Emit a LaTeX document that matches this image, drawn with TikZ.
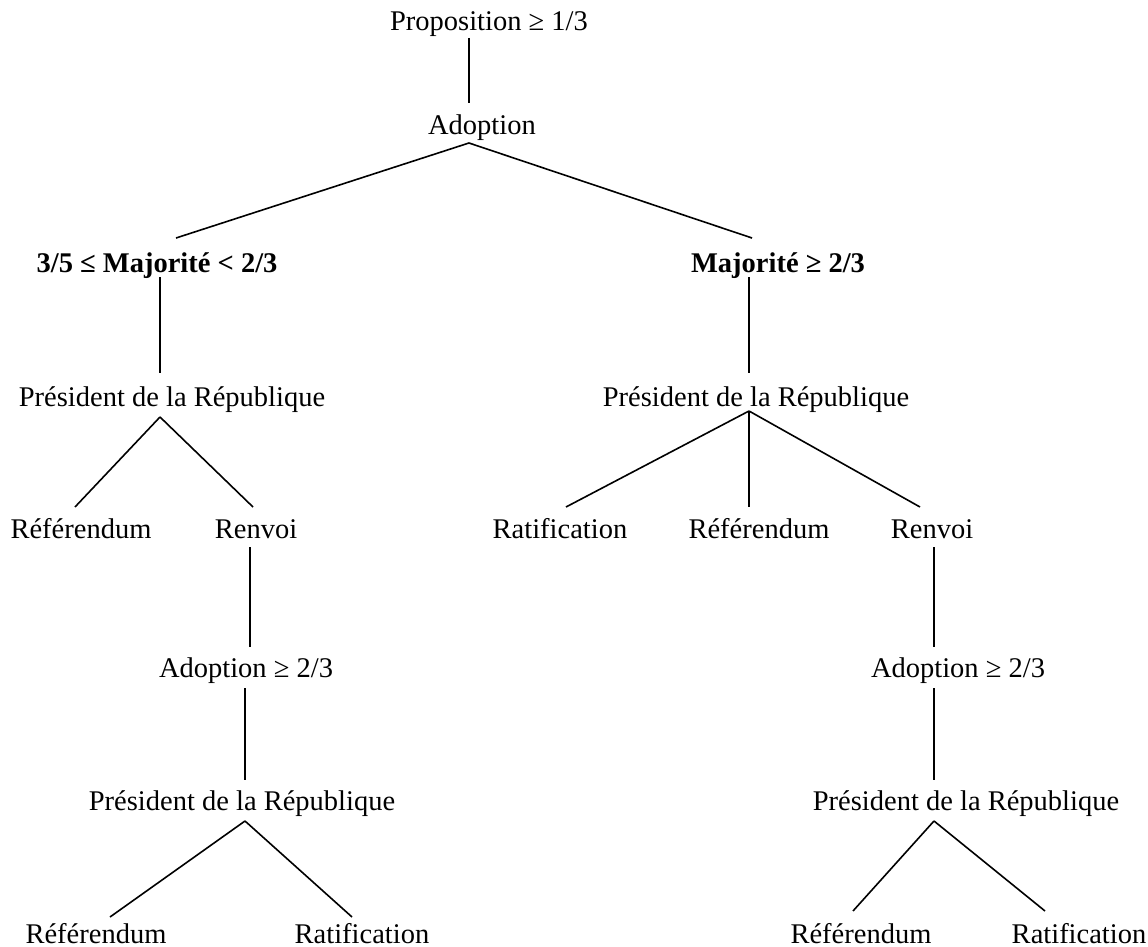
\documentclass[tikz,border=0pt]{standalone}
\usepackage{fontspec}
\setmainfont{Liberation Serif}
\usepackage{tikz}
\usetikzlibrary{positioning}

\tikzset{
  txt/.style={inner sep=0pt,anchor=base,font=\fontsize{28.5}{34}\selectfont},
  txtb/.style={txt,font=\fontsize{28.5}{34}\selectfont\bfseries},
  branch/.style={line width=1.6pt}
}

\begin{document}
\begin{tikzpicture}[x=1pt,y=-1pt]
\useasboundingbox (0,0) rectangle (1148,947);
%%%%%%%%%%%%%% texts
\node[txt] (prop) at (489,31) {Proposition ≥ 1/3};
\node[txt] (adop) at (482,135) {Adoption};
\node[txtb] (majl) at (157,272) {3/5 ≤ Majorité < 2/3};
\node[txtb] (majr) at (778,272) {Majorité ≥ 2/3};
\node[txt] (presl) at (172,406) {Président de la République};
\node[txt] (presr) at (756,406) {Président de la République};
\node[txt] (refl) at (81,538) {Référendum};
\node[txt] (renl) at (256,538) {Renvoi};
\node[txt] (ratr) at (560,538) {Ratification};
\node[txt] (refr) at (759,538) {Référendum};
\node[txt] (renr) at (932,538) {Renvoi};
\node[txt] (adopl) at (246,677) {Adoption ≥ 2/3};
\node[txt] (adopr) at (958,677) {Adoption ≥ 2/3};
\node[txt] (presl2) at (242,810) {Président de la République};
\node[txt] (presr2) at (966,810) {Président de la République};
\node[txt] (refl2) at (96,943) {Référendum};
\node[txt] (ratl2) at (362,943) {Ratification};
\node[txt] (refr2) at (861,943) {Référendum};
\node[txt] (ratr2) at (1079,943) {Ratification};
%%%%%%%%%%%%%% line ends
\coordinate (aux0) at (469,38);
\coordinate[below=65pt of aux0] (aux1);
\coordinate (aux2) at (469,143);
\coordinate (auxl1) at (176,238);
\coordinate (auxr1) at (752,238);
\coordinate (auxl2) at (160,277);
\coordinate[below=96pt of auxl2] (auxl3);
\coordinate (auxr2) at (749,277);
\coordinate[below=96pt of auxr2] (auxr3);
\coordinate (auxl4) at (160,417);
\coordinate (auxl5) at (75,507);
\coordinate (auxl6) at (253,507);
\coordinate (auxr4) at (749,411);
\coordinate (auxr5) at (566,507);
\coordinate (auxr6) at (749,507);
\coordinate (auxr7) at (920,507);
\coordinate (auxl7) at (250,547);
\coordinate[below=100pt of auxl7] (auxl8);
\coordinate (auxr8) at (934,547);
\coordinate[below=100pt of auxr8] (auxr9);
\coordinate (auxl9) at (245,688);
\coordinate[below=92pt of auxl9] (auxl10);
\coordinate (auxr10) at (934,688);
\coordinate[below=92pt of auxr10] (auxr11);
\coordinate (auxl11) at (245,821);
\coordinate (auxl12) at (110,917);
\coordinate (auxl13) at (352,917);
\coordinate (auxr12) at (934,821);
\coordinate (auxr13) at (853,911);
\coordinate (auxr14) at (1045,911);

\draw[branch] (aux0) -- (aux1);
\draw[branch] (aux2) -- (auxl1);
\draw[branch] (aux2) -- (auxr1);
%%%%%%%%%%%%%%
\draw[branch] (auxl2) -- (auxl3);
\draw[branch] (auxl4) -- (auxl5);
\draw[branch] (auxl4) -- (auxl6);
\draw[branch] (auxl7) -- (auxl8);
\draw[branch] (auxl9) -- (auxl10);
\draw[branch] (auxl11) -- (auxl12);
\draw[branch] (auxl11) -- (auxl13);
%%%%%%%%%%%%%%
\draw[branch] (auxr2) -- (auxr3);
\draw[branch] (auxr4) -- (auxr5);
\draw[branch] (auxr4) -- (auxr6);
\draw[branch] (auxr4) -- (auxr7);
\draw[branch] (auxr8) -- (auxr9);
\draw[branch] (auxr10) -- (auxr11);
\draw[branch] (auxr12) -- (auxr13);
\draw[branch] (auxr12) -- (auxr14);
\end{tikzpicture}
\end{document}
